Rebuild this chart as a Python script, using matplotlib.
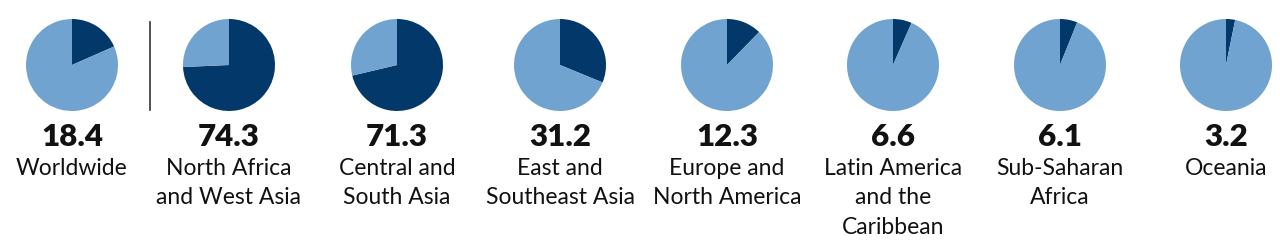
import matplotlib.pyplot as plt

regions = ["Worldwide", "North Africa\nand West Asia", "Central and\nSouth Asia",
           "East and\nSoutheast Asia", "Europe and\nNorth America",
           "Latin America\nand the\nCaribbean", "Sub-Saharan\nAfrica", "Oceania"]
shares = [18.4, 74.3, 71.3, 31.2, 12.3, 6.6, 6.1, 3.2]

dark = "#03386a"
light = "#70a3cf"

W, H = 1280, 251
fig = plt.figure(figsize=(W / 100, H / 100), dpi=100)
plt.rcParams["font.family"] = ["Lato", "DejaVu Sans"]

centers = [72, 229, 397, 560, 727, 893, 1060, 1226]
r = 46
cy = 66

for cx, val, lab in zip(centers, shares, regions):
    ax = fig.add_axes([(cx - r) / W, 1 - (cy + r) / H, 2 * r / W, 2 * r / H])
    ax.pie([val, 100 - val], colors=[dark, light], startangle=90,
           counterclock=False, radius=1.0)
    ax.set_xlim(-1, 1)
    ax.set_ylim(-1, 1)
    ax.set_aspect("equal")
    ax.axis("off")
    fig.text(cx / W, 1 - 137 / H, f"{val:.1f}", ha="center", va="center",
             fontsize=22.5, fontweight="heavy", color="#111111")
    fig.text(cx / W, 1 - 158 / H, lab, ha="center", va="top",
             fontsize=16.5, color="#111111", linespacing=1.5)

# separator between worldwide and regions
fig.add_artist(plt.Line2D([150 / W, 150 / W], [1 - 23 / H, 1 - 111 / H],
                          color="#333333", lw=1.2))

fig.savefig("out.png", dpi=100)
